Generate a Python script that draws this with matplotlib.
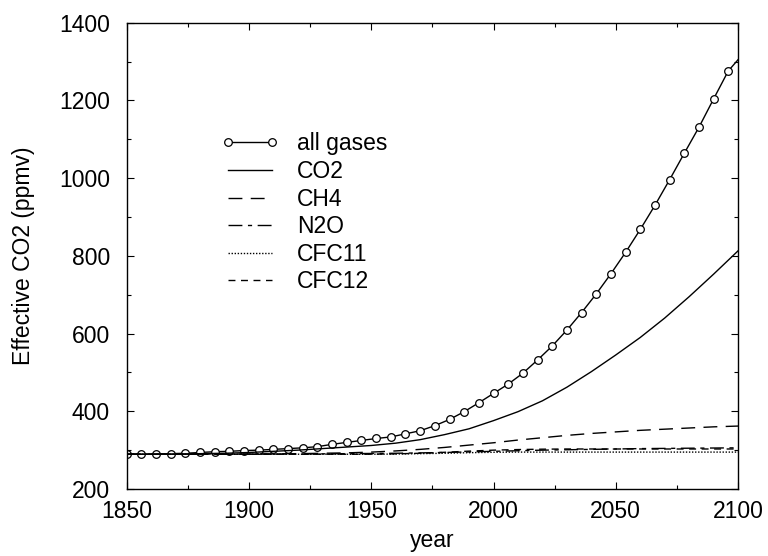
import matplotlib.pyplot as plt
from matplotlib.ticker import MultipleLocator

plt.rcParams['font.family'] = 'Liberation Sans'
plt.rcParams['font.size'] = 16.5

# all gases, read at the plotted markers (every 6 years) plus the end point
all_years = [1850, 1856, 1862, 1868, 1874, 1880, 1886, 1892, 1898, 1904,
             1910, 1916, 1922, 1928, 1934, 1940, 1946, 1952, 1958, 1964,
             1970, 1976, 1982, 1988, 1994, 2000, 2006, 2012, 2018, 2024,
             2030, 2036, 2042, 2048, 2054, 2060, 2066, 2072, 2078, 2084,
             2090, 2096, 2100]
all_gases = [289.5, 289.5, 290, 291, 292, 294, 296, 297, 299, 300,
             302, 304, 306, 309, 315, 320, 325, 330, 334, 342,
             350, 363, 379, 399, 422, 446, 470, 498, 532, 568,
             609, 654, 702, 754, 809, 868, 930, 996, 1064, 1131,
             1204, 1276, 1305]

# single gases, every 10 years
years = [1850, 1860, 1870, 1880, 1890, 1900, 1910, 1920, 1930, 1940,
         1950, 1960, 1970, 1980, 1990, 2000, 2010, 2020, 2030, 2040,
         2050, 2060, 2070, 2080, 2090, 2100]
co2 = [289.5, 289.5, 290, 291, 292, 294, 297, 300, 304, 308,
       312, 318, 327, 340, 355, 376, 399, 427, 462, 502,
       545, 590, 640, 695, 753, 813]
ch4 = [289.5, 289.5, 289.5, 289.5, 289.5, 290, 290.5, 291, 292, 293,
       295, 298, 302, 307, 313, 319, 326, 332, 338, 343,
       347, 351, 354, 357, 360, 362]
n2o = [289.5, 289.5, 289.5, 289.5, 289.5, 289.5, 290, 290, 290.5, 291,
       291.5, 292, 293, 294, 295.5, 297, 298.5, 300, 301, 302,
       303, 304, 304.5, 305, 305.5, 306]
cfc11 = [289.5, 289.5, 289.5, 289.5, 289.5, 289.5, 289.5, 289.5, 289.5, 289.5,
         289.5, 290, 291, 292, 293.5, 294.5, 295, 295, 295, 295,
         295, 295, 295, 295, 295, 295]
cfc12 = [289.5, 289.5, 289.5, 289.5, 289.5, 289.5, 289.5, 289.5, 289.5, 289.5,
         289.5, 290.5, 292, 294.5, 297.5, 300, 301.5, 302.5, 303, 303,
         303, 303, 303, 303, 303, 303]

fig = plt.figure(figsize=(7.68, 5.56), dpi=100)
ax = fig.add_axes([0.165, 0.1205, 0.796, 0.8385])

lw = 1.0
ax.plot(all_years, all_gases, color='k', lw=lw, marker='o', ms=5.5,
        mfc='white', mec='k', mew=0.9, markevery=slice(0, -1),
        label='all gases')
ax.plot(years, co2, color='k', lw=lw, label='CO2')
ax.plot(years, ch4, color='k', lw=lw, dashes=(10, 6), label='CH4')
ax.plot(years, n2o, color='k', lw=lw, dashes=(10, 4, 3, 4), label='N2O')
ax.plot(years, cfc11, color='k', lw=lw, dashes=(1, 1.2), label='CFC11')
ax.plot(years, cfc12, color='k', lw=lw, dashes=(5, 4), label='CFC12')

ax.set_xlim(1850, 2100)
ax.set_ylim(200, 1400)
ax.xaxis.set_major_locator(MultipleLocator(50))
ax.xaxis.set_minor_locator(MultipleLocator(25))
ax.yaxis.set_major_locator(MultipleLocator(200))
ax.yaxis.set_minor_locator(MultipleLocator(100))
ax.tick_params(which='both', direction='in', top=True, right=True)
ax.tick_params(which='major', length=5, width=0.8)
ax.tick_params(which='minor', length=3, width=0.8)
ax.tick_params(axis='x', pad=8)
ax.tick_params(axis='y', pad=12)
for s in ax.spines.values():
    s.set_linewidth(1.0)

ax.set_xlabel('year', labelpad=4)
ax.set_ylabel('Effective CO2 (ppmv)', labelpad=17)

ax.legend(loc='upper left', bbox_to_anchor=(0.155, 0.765), frameon=False,
          numpoints=2, handlelength=2.5, handletextpad=0.8,
          labelspacing=0.2, borderpad=0, borderaxespad=0)

fig.savefig('out.png', dpi=100)
